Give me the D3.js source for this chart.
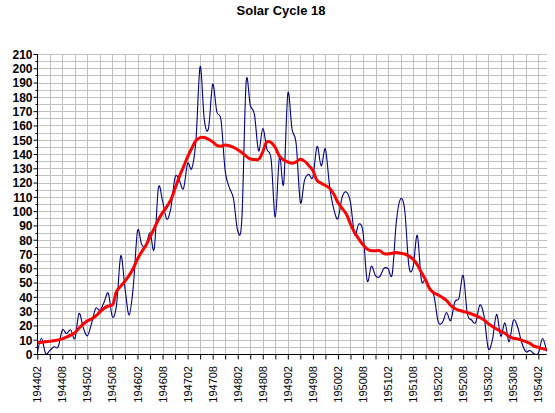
<!DOCTYPE html>
<html>
<head>
<meta charset="utf-8">
<script src="https://cdn.jsdelivr.net/npm/d3@7"></script>
<style>
  html, body { margin: 0; padding: 0; background: #fff; }
  svg { display: block; }
  text { font-family: "Liberation Sans", Arial, sans-serif; }
</style>
</head>
<body>
<div id="chart"></div>
<script>
// ---- data ----
const title = "Solar Cycle 18";
const startYear = 1944, startMonth = 2;   // first category: 194402

// monthly sunspot numbers, 1944-02 .. 1954-04
const sunspots = [
  0.5, 11.0, 0.3, 2.5, 5.0, 5.0, 16.7, 14.3, 16.9, 10.8, 28.4,
  18.5, 12.7, 21.5, 32.0, 30.6, 36.2, 42.6, 25.9, 34.9, 68.8, 46.0, 27.4,
  47.6, 86.2, 76.6, 75.7, 84.9, 73.5, 116.2, 107.2, 94.4, 102.3, 123.8, 121.7,
  115.7, 133.4, 129.8, 149.8, 201.3, 163.9, 157.9, 188.8, 169.4, 163.6, 128.0, 116.5,
  108.5, 86.1, 94.8, 189.7, 174.0, 167.8, 142.2, 157.9, 143.3, 136.3, 95.8, 138.0,
  119.1, 182.3, 157.5, 147.0, 106.2, 121.7, 125.8, 123.8, 145.3, 131.6, 143.5, 117.6,
  101.6, 94.8, 109.7, 113.4, 106.2, 83.6, 91.0, 85.2, 51.3, 61.4, 54.8, 54.1,
  59.9, 59.9, 55.9, 92.9, 108.5, 100.6, 61.5, 61.0, 83.1, 51.6, 52.4, 45.8,
  40.7, 22.7, 22.0, 29.1, 23.4, 36.4, 39.3, 54.9, 28.2, 23.8, 22.1, 34.3,
  26.5, 3.9, 10.0, 27.8, 12.5, 21.8, 8.6, 23.5, 19.3, 8.2, 1.6, 2.5,
  0.2, 0.5, 10.9, 1.8
];

// smoothed sunspot numbers (red curve), same months
const smoothed = [
  7.9, 8.2, 8.6, 8.9, 9.3, 9.8, 10.6, 11.8, 13.2, 15.0, 18.0,
  21.0, 23.2, 24.6, 26.6, 29.5, 32.0, 33.6, 34.5, 44.0, 47.5, 51.0, 55.0,
  60.0, 66.5, 71.5, 76.0, 82.0, 88.0, 94.0, 99.0, 103.0, 108.0, 116.0, 124.0,
  131.0, 138.0, 144.0, 149.5, 151.5, 151.5, 150.3, 148.5, 146.0, 145.5, 146.3, 145.8,
  144.7, 143.0, 141.0, 138.5, 136.5, 136.2, 136.3, 141.5, 148.5, 148.0, 144.5, 138.5,
  135.8, 134.5, 133.5, 134.5, 136.3, 135.0, 132.0, 128.5, 121.5, 119.5, 118.0, 116.0,
  112.0, 106.0, 102.0, 98.0, 91.0, 85.0, 80.5, 76.5, 73.5, 72.3, 72.3, 72.3,
  70.3, 70.0, 70.5, 71.0, 70.5, 70.0, 68.5, 66.3, 62.5, 57.0, 51.8, 45.5,
  42.8, 41.3, 39.5, 37.6, 34.0, 31.8, 30.6, 29.8, 29.0, 28.0, 26.9, 25.5,
  23.8, 21.3, 19.3, 17.5, 15.8, 14.5, 12.2, 11.0, 10.6, 9.7, 8.7, 7.4,
  5.5, 4.7, 3.8, 3.2
];

const xTickLabels = ["194402","194408","194502","194508","194602","194608","194702",
  "194708","194802","194808","194902","194908","195002","195008","195102","195108",
  "195202","195208","195302","195308","195402"];
const yTicks = d3.range(0, 211, 10);

// categories (YYYYMM) for each month
const months = sunspots.map((_, i) => {
  const m0 = startMonth - 1 + i;
  const yr = startYear + Math.floor(m0 / 12);
  const m = (m0 % 12) + 1;
  return String(yr) + String(m).padStart(2, "0");
});

// ---- layout ----
const W = 555, H = 413;
const pLeft = 37.3, pRight = 546.7, pTop = 54, pBottom = 354;

const svg = d3.select("#chart").append("svg")
  .attr("width", W).attr("height", H);
svg.append("rect").attr("width", W).attr("height", H).attr("fill", "#fff");

const x = d3.scaleLinear().domain([0, months.length - 1]).range([pLeft, pRight]);
const y = d3.scaleLinear().domain([0, 210]).range([pBottom, pTop]);

// grid
const grid = svg.append("g").attr("stroke", "#c0c0c0").attr("stroke-width", 1).attr("shape-rendering", "crispEdges");
grid.selectAll("line.h").data(d3.range(0, 211, 5)).join("line")
  .attr("x1", pLeft).attr("x2", pRight)
  .attr("y1", d => Math.round(y(d)) + 0.5).attr("y2", d => Math.round(y(d)) + 0.5);
grid.selectAll("line.v").data(d3.range(0, months.length, 3)).join("line")
  .attr("y1", pTop).attr("y2", pBottom)
  .attr("x1", d => Math.round(x(d)) + 0.5).attr("x2", d => Math.round(x(d)) + 0.5);

// clip
svg.append("clipPath").attr("id", "plotclip").append("rect")
  .attr("x", pLeft).attr("y", pTop).attr("width", pRight - pLeft + 1).attr("height", pBottom - pTop);

const plot = svg.append("g").attr("clip-path", "url(#plotclip)");

const blueLine = d3.line()
  .x((d, i) => x(i)).y(d => y(d))
  .curve(d3.curveCardinal.tension(0));
plot.append("path").datum(sunspots)
  .attr("d", blueLine).attr("fill", "none")
  .attr("stroke", "#000080").attr("stroke-width", 1.1);

const redLine = d3.line()
  .x((d, i) => x(i)).y(d => y(d))
  .curve(d3.curveCatmullRom.alpha(0.5));
plot.append("path").datum(smoothed)
  .attr("d", redLine).attr("fill", "none")
  .attr("stroke", "#ff0000").attr("stroke-width", 3)
  .attr("stroke-linejoin", "round");

// axes
const yAxis = d3.axisLeft(y).tickValues(yTicks).tickSize(4).tickFormat(d3.format("d"));
const gy = svg.append("g").attr("transform", `translate(${Math.round(pLeft) + 0.5},0)`).call(yAxis);
gy.select(".domain").attr("d", `M0,${pTop}V${pBottom + 0.5}`).attr("stroke", "#000");
gy.selectAll(".tick line").attr("stroke", "#000");
gy.selectAll(".tick text").attr("font-size", "12px").attr("font-weight", "bold")
  .attr("fill", "#000").attr("x", -5).attr("dy", "0.36em");
// minor y ticks
gy.selectAll("line.minor").data(d3.range(5, 211, 10)).join("line")
  .attr("class", "minor").attr("x1", -2).attr("x2", 0)
  .attr("y1", d => Math.round(y(d)) + 0.5).attr("y2", d => Math.round(y(d)) + 0.5)
  .attr("stroke", "#000");

const xAxis = d3.axisBottom(x).tickValues(d3.range(0, months.length, 3)).tickSize(5).tickFormat("");
const gx = svg.append("g").attr("transform", `translate(0,${pBottom + 0.5})`).call(xAxis);
gx.select(".domain").attr("d", `M${Math.round(pLeft)},0H${pRight}`).attr("stroke", "#000");
gx.selectAll(".tick line").attr("stroke", "#000");

// x labels (rotated)
svg.append("g").selectAll("text").data(xTickLabels).join("text")
  .attr("transform", d => `translate(${x(months.indexOf(d)) + 4},${pBottom + 12}) rotate(-90)`)
  .attr("text-anchor", "end")
  .attr("font-size", "11px")
  .attr("fill", "#000")
  .text(d => d);

// title
svg.append("text").attr("x", 281).attr("y", 15).attr("text-anchor", "middle")
  .attr("font-size", "13px").attr("font-weight", "bold").attr("fill", "#000")
  .text(title);
</script>
</body>
</html>
